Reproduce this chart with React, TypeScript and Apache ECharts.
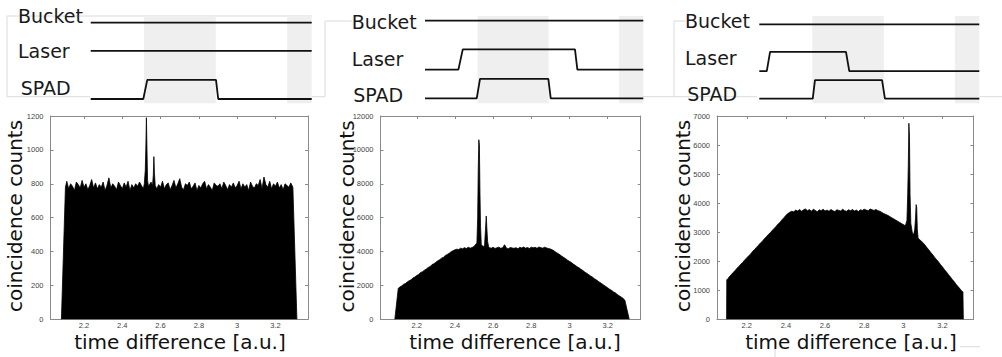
import React, { useEffect, useRef } from "react";
import * as echarts from "echarts";

// ---------- histogram data (coincidence counts) ----------
const BIN_START = 2.11;
const BIN_STEP = 0.01;

// panel 1: Bucket on, Laser on, SPAD gated
const p1Body = [
  815, 770, 800, 785, 760, 810, 795, 775, 820, 780,
  800, 765, 790, 825, 775, 805, 770, 795, 780, 810,
  760, 790, 835, 775, 800, 785, 765, 810, 790, 770,
  805, 780, 815, 760, 795, 775, 800, 785, 810, 790,
  770, 800, 790, 790, 810, 800, 800, 770, 795, 780,
  815, 770, 795, 805, 765, 790, 820, 775, 800, 830,
  780, 765, 800, 790, 810, 770, 785, 805, 760, 790,
  775, 800, 815, 770, 795, 780, 760, 805, 790, 785,
  800, 770, 810, 790, 765, 795, 780, 805, 775, 790,
  815, 770, 800, 780, 795, 760, 810, 785, 775, 800,
  790, 825, 770, 840, 795, 780, 815, 770, 800, 785,
  810, 775, 795, 765, 800, 790, 780, 805,
];
const p1Lead = [[2.082, 0], [2.103, 780]];
const p1Tail = [[3.291, 780], [3.312, 0]];
const p1Spikes = [
  [2.515, 800], [2.52, 880], [2.523, 1010], [2.526, 1190], [2.529, 1000], [2.532, 820], [2.536, 790],
  [2.558, 790], [2.562, 850], [2.565, 960], [2.568, 860], [2.572, 790],
];
const p1Windows = [[2.512, 2.539], [2.555, 2.575]];

// panel 2
const p2Body = [
  1900, 1960, 2060, 2110, 2200, 2280, 2330, 2440, 2500, 2590,
  2650, 2760, 2810, 2900, 2970, 3060, 3110, 3230, 3280, 3370,
  3450, 3520, 3610, 3660, 3770, 3830, 3900, 3990, 4050, 4100,
  4140, 4120, 4200, 4160, 4230, 4180, 4250, 4200, 4240, 4300,
  4450, 4600, 4500, 4350, 4300, 4400, 4350, 4230, 4200, 4250,
  4180, 4220, 4260, 4190, 4230, 4400, 4200, 4170, 4240, 4210,
  4190, 4230, 4160, 4250, 4210, 4270, 4200, 4240, 4180, 4260,
  4220, 4250, 4190, 4270, 4230, 4200, 4260, 4210, 4180, 4150,
  4100, 4030, 3950, 3880, 3810, 3720, 3650, 3580, 3490, 3420,
  3350, 3260, 3190, 3100, 3040, 2950, 2880, 2790, 2720, 2640,
  2560, 2490, 2400, 2330, 2250, 2170, 2100, 2010, 1940, 1860,
  1780, 1710, 1620, 1560, 1470, 1390, 1320, 1240,
];
const p2Lead = [[2.085, 0], [2.103, 1820]];
const p2Tail = [[3.29, 1130], [3.313, 0]];
const p2Spikes = [
  [2.515, 4500], [2.519, 6000], [2.522, 8800], [2.525, 10600], [2.528, 10300], [2.531, 7500],
  [2.534, 5500], [2.538, 4400], [2.548, 4300], [2.555, 4350], [2.56, 5300], [2.564, 6100],
  [2.567, 5400], [2.571, 4600], [2.576, 4300],
];
const p2Windows = [[2.512, 2.578]];

// panel 3
const p3Body = [
  1460, 1530, 1610, 1670, 1760, 1820, 1900, 1960, 2050, 2110,
  2190, 2250, 2340, 2400, 2480, 2550, 2630, 2690, 2770, 2840,
  2920, 2980, 3060, 3130, 3200, 3280, 3340, 3430, 3500, 3580,
  3640, 3690, 3720, 3700, 3760, 3730, 3780, 3720, 3770, 3800,
  3740, 3780, 3720, 3790, 3750, 3700, 3770, 3740, 3790, 3730,
  3760, 3720, 3780, 3740, 3710, 3770, 3750, 3730, 3790, 3740,
  3720, 3770, 3740, 3780, 3730, 3760, 3710, 3770, 3750, 3790,
  3760, 3740, 3800, 3770, 3750, 3780, 3740, 3720, 3680, 3640,
  3610, 3580, 3540, 3500, 3460, 3420, 3380, 3340, 3300, 3260,
  3220, 3180, 3150, 3100, 3000, 2950, 2900, 2780, 2700, 2640,
  2560, 2470, 2390, 2300, 2220, 2130, 2050, 1970, 1880, 1800,
  1710, 1630, 1540, 1460, 1370, 1290, 1200, 1120,
];
const p3Lead = [[2.097, 0], [2.098, 1360], [2.104, 1400]];
const p3Tail = [[3.29, 1040], [3.3, 960], [3.304, 950], [3.306, 0]];
const p3Spikes = [
  [3.012, 3200], [3.018, 3400], [3.022, 4300], [3.025, 5300], [3.028, 6750], [3.031, 6300],
  [3.034, 4300], [3.038, 3300], [3.045, 3000], [3.052, 2900], [3.058, 3100], [3.062, 3500],
  [3.065, 3950], [3.068, 3850], [3.071, 3100], [3.075, 2800], [3.08, 2760],
];
const p3Windows = [[3.011, 3.085]];

// y-axis ticks
const yMaxes = [1200, 12000, 7000];
const ySteps = [200, 2000, 1000];
const xRanges = [[2.025, 3.37], [2.01, 3.373], [2.048, 3.358]];

// ---------- timing diagram data ----------
const BUCKET = 1;
const LASER_ON = 0.63;
const LASER_OFF = 0.37;
const SPAD_ON = 0.25;
const SPAD_OFF = 0;

const t1Bucket = [[0, BUCKET], [100, BUCKET]];
const t1Laser = [[0, LASER_ON], [100, LASER_ON]];
const t1Spad = [[0, SPAD_OFF], [23.8, SPAD_OFF], [25.6, SPAD_ON], [56.7, SPAD_ON], [57.7, SPAD_OFF], [100, SPAD_OFF]];

const t2Bucket = [[0, BUCKET], [100, BUCKET]];
const t2Laser = [[0, LASER_OFF], [15.3, LASER_OFF], [17.3, LASER_ON], [68.7, LASER_ON], [69.8, LASER_OFF], [100, LASER_OFF]];
const t2Spad = [[0, SPAD_OFF], [23.7, SPAD_OFF], [25.2, SPAD_ON], [56.5, SPAD_ON], [57.6, SPAD_OFF], [100, SPAD_OFF]];

const t3Bucket = [[0, BUCKET], [100, BUCKET]];
const t3Laser = [[0, LASER_OFF], [3.4, LASER_OFF], [4.9, LASER_ON], [39.4, LASER_ON], [40.9, LASER_OFF], [100, LASER_OFF]];
const t3Spad = [[0, SPAD_OFF], [24.3, SPAD_OFF], [25.3, SPAD_ON], [55.8, SPAD_ON], [57.1, SPAD_OFF], [100, SPAD_OFF]];

const gateWindows = [[24.1, 56.6], [88.9, 100]];
const signalNames = ["Bucket", "Laser", "SPAD"];

function buildHist(lead: number[][], body: number[], spikes: number[][], windows: number[][], tail: number[][]) {
  const pts: number[][] = [];
  body.forEach((v, i) => {
    const x = +(BIN_START + i * BIN_STEP).toFixed(3);
    if (!windows.some(([a, b]) => x > a && x < b)) pts.push([x, v]);
  });
  const all = [...lead, ...pts, ...spikes].sort((a, b) => a[0] - b[0]);
  return [...all, ...tail];
}

const AX = "#8a8a8a";
const TICKFONT = "Liberation Sans";
const BIGFONT = "DejaVu Sans";
const TICKCOLOR = "#444";

export default function App() {
  const ref = useRef<HTMLDivElement>(null);
  useEffect(() => {
    document.body.style.margin = "0";
    if (!ref.current) return;
    const chart = echarts.init(ref.current, null, { renderer: "svg" });

    const hists = [
      buildHist(p1Lead, p1Body, p1Spikes, p1Windows, p1Tail),
      buildHist(p2Lead, p2Body, p2Spikes, p2Windows, p2Tail),
      buildHist(p3Lead, p3Body, p3Spikes, p3Windows, p3Tail),
    ];
    const histGrids = [
      { left: 50.5, top: 116, width: 257.5, height: 203.3 },
      { left: 380.5, top: 116, width: 260.2, height: 203.3 },
      { left: 717, top: 116, width: 256.5, height: 203.3 },
    ];
    const timingGrids = [
      { left: 90.7, top: 16, width: 221, height: 87.3 },
      { left: 425, top: 16, width: 218.3, height: 87.3 },
      { left: 759.3, top: 16, width: 220, height: 87.3 },
    ];
    const timingY = [[-0.0564, 1.0878], [-0.0644, 1.0606], [-0.0618, 1.1116]];
    const timingData = [
      [t1Bucket, t1Laser, t1Spad],
      [t2Bucket, t2Laser, t2Spad],
      [t3Bucket, t3Laser, t3Spad],
    ];

    const grid: any[] = [];
    const xAxis: any[] = [];
    const yAxis: any[] = [];
    const series: any[] = [];

    histGrids.forEach((g, i) => {
      grid.push({ ...g, containLabel: false, outerBoundsMode: "none" });
      const xBase = {
        gridIndex: i,
        type: "value",
        min: xRanges[i][0],
        max: xRanges[i][1],
        splitNumber: 7,
        minInterval: 0.2,
        maxInterval: 0.2,
        axisLine: { show: true, onZero: false, lineStyle: { color: AX, width: 1 } },
        axisTick: { show: true, inside: true, length: 3, lineStyle: { color: AX } },
        splitLine: { show: false },
      };
      xAxis.push({
        ...xBase,
        position: "bottom",
        axisLabel: {
          show: true, margin: 2, fontSize: 7.5, color: TICKCOLOR, fontFamily: TICKFONT,
          showMinLabel: false, showMaxLabel: false,
        },
      });
      xAxis.push({ ...xBase, position: "top", axisLabel: { show: false } });
      const yBase = {
        gridIndex: i,
        type: "value",
        min: 0,
        max: yMaxes[i],
        interval: ySteps[i],
        axisLine: { show: true, onZero: false, lineStyle: { color: AX, width: 1 } },
        axisTick: { show: true, inside: true, length: 3, lineStyle: { color: AX } },
        splitLine: { show: false },
      };
      yAxis.push({
        ...yBase,
        position: "left",
        axisLabel: {
          show: true, margin: 7, fontSize: 7.5, color: TICKCOLOR, fontFamily: TICKFONT,
          formatter: (v: number) => String(v),
        },
      });
      yAxis.push({ ...yBase, position: "right", axisLabel: { show: false } });
      series.push({
        type: "line",
        xAxisIndex: i * 2,
        yAxisIndex: i * 2,
        data: hists[i],
        showSymbol: false,
        symbol: "none",
        silent: true,
        lineStyle: { color: "#000", width: 0.8 },
        areaStyle: { color: "#000", opacity: 1 },
        z: 2,
      });
    });

    timingGrids.forEach((g, k) => {
      const gi = 3 + k;
      grid.push({ ...g, containLabel: false, outerBoundsMode: "none" });
      const xi = xAxis.length;
      const yi = yAxis.length;
      xAxis.push({ gridIndex: gi, type: "value", min: 0, max: 100, show: false });
      yAxis.push({ gridIndex: gi, type: "value", min: timingY[k][0], max: timingY[k][1], show: false });
      series.push({
        type: "line",
        xAxisIndex: xi,
        yAxisIndex: yi,
        data: [],
        silent: true,
        z: 1,
        markArea: {
          silent: true,
          itemStyle: { color: "#efefef" },
          data: gateWindows.map(([a, b]) => [{ xAxis: a }, { xAxis: b }]),
        },
      });
      timingData[k].forEach((d, s) => {
        series.push({
          type: "line",
          name: signalNames[s],
          xAxisIndex: xi,
          yAxisIndex: yi,
          data: d,
          showSymbol: false,
          symbol: "none",
          silent: true,
          clip: false,
          lineStyle: { color: "#111", width: 1.8 },
          z: 3,
        });
      });
    });

    const labelPos = [
      [[18, 15.8], [18, 50.8], [20.7, 88]],
      [[351.7, 22], [351.7, 59.2], [353.3, 95]],
      [[685, 20.8], [685, 57.8], [687.3, 93.7]],
    ];
    const graphic: any[] = [];
    labelPos.forEach((panel) =>
      panel.forEach(([x, y], s) =>
        graphic.push({
          type: "text", x, y, silent: true, z: 10,
          style: { text: signalNames[s], font: `19px "${BIGFONT}"`, fill: "#1a1a1a", align: "left", verticalAlign: "middle" },
        })
      )
    );
    const xTitles = [180, 515, 851];
    xTitles.forEach((x) =>
      graphic.push({
        type: "text", x, y: 342, silent: true, z: 10,
        style: { text: "time difference [a.u.]", font: `20px "${BIGFONT}"`, fill: "#111", align: "center", verticalAlign: "middle" },
      })
    );
    const yTitles = [[15, 216], [346.7, 216.5], [683, 216]];
    yTitles.forEach(([x, y]) =>
      graphic.push({
        type: "text", x, y, rotation: Math.PI / 2, silent: true, z: 10,
        style: { text: "coincidence counts", font: `20px "${BIGFONT}"`, fill: "#111", align: "center", verticalAlign: "middle" },
      })
    );
    const frameLines = [
      [[7, 16], [7, 96.7], [90, 96.7]],
      [[7, 16], [311.7, 16]],
      [[311.7, 96.7], [325, 96.7], [325, 21], [352, 21]],
      [[643, 96.7], [757, 96.7]],
      [[674, 96.7], [674, 21], [685, 21]],
      [[979.3, 96.7], [1002, 96.7]],
      [[775, 342], [775, 357]],
      [[960, 346.7], [980, 346.7]],
    ];
    frameLines.forEach((pts) =>
      graphic.push({
        type: "polyline", silent: true, z: 0,
        shape: { points: pts },
        style: { stroke: "#dadada", lineWidth: 1, fill: null },
      })
    );

    chart.setOption({
      animation: false,
      backgroundColor: "#fff",
      textStyle: { fontFamily: TICKFONT },
      grid,
      xAxis,
      yAxis,
      series,
      graphic,
    });
    return () => chart.dispose();
  }, []);
  return <div ref={ref} style={{ width: 1002, height: 357 }} />;
}
